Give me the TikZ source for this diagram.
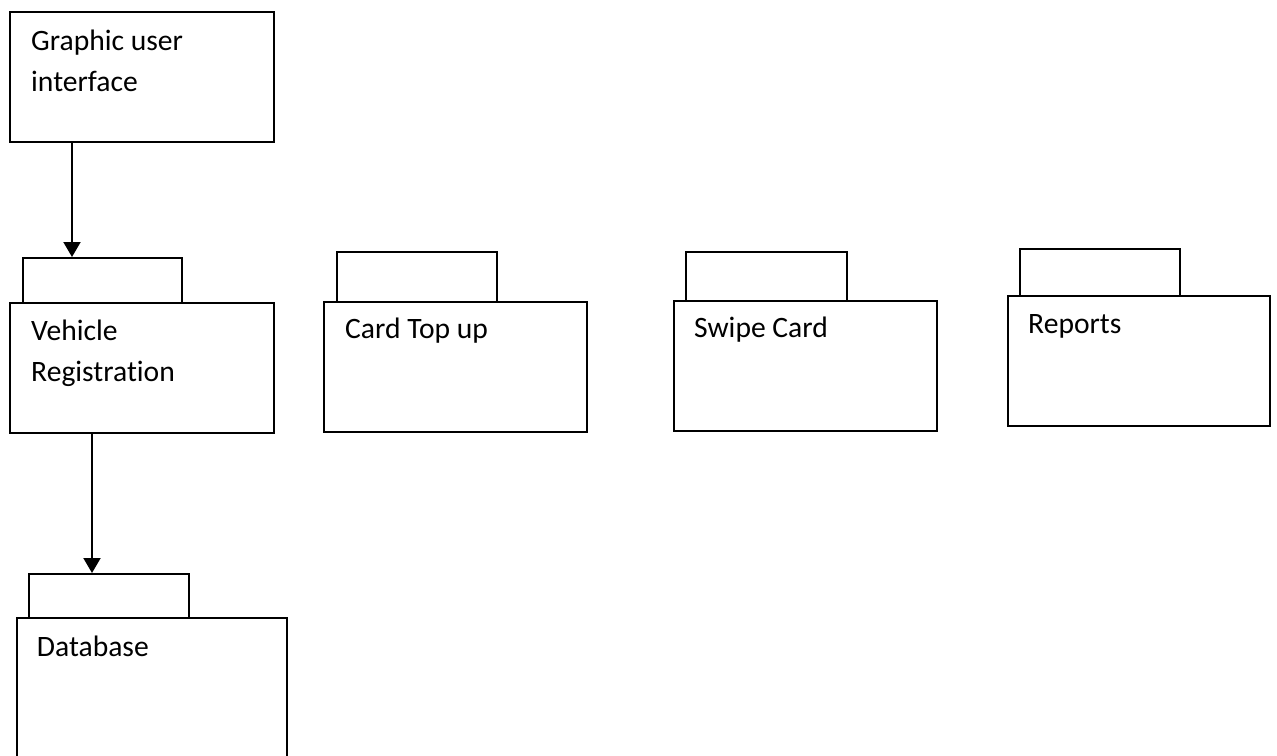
\documentclass[tikz,border=0pt]{standalone}
\usepackage{fontspec}
\setmainfont{Carlito}[Ligatures=NoCommon]
\usetikzlibrary{arrows.meta}

\begin{document}
\begin{tikzpicture}[x=1pt,y=-1pt,
    box/.style={draw, line width=2pt, anchor=north west, inner sep=0pt},
    lbl/.style={anchor=base west, align=left, inner sep=0pt,
      font=\fontsize{29.6}{41}\selectfont},
    arr/.style={line width=2pt, -{Triangle[length=15pt,width=17pt]}}]
  \useasboundingbox (0,0) rectangle (1277,755);
  \clip (0,0) rectangle (1277,755);
  % interface box on top (two-line labels sit on their last baseline)
  \node[box, minimum width=264pt, minimum height=130pt] (gui) at (9,10.7) {};
  \node[lbl] (guilbl) at (31,91) {Graphic user\\interface};
  % packages: tab first, then the body over it
  \node[box, minimum width=159pt, minimum height=45pt] (vrtab) at (22,257) {};
  \node[box, minimum width=264pt, minimum height=130pt] (vr) at (9,302) {};
  \node[lbl] (vrlbl) at (31,381.7) {Vehicle\\Registration};
  \node[box, minimum width=160pt, minimum height=50pt] (cttab) at (335.5,251) {};
  \node[box, minimum width=263pt, minimum height=130pt] (ct) at (323,300.7) {};
  \node[lbl] (ctlbl) at (345,338) {Card Top up};
  \node[box, minimum width=161pt, minimum height=49pt] (sctab) at (685,250.7) {};
  \node[box, minimum width=263pt, minimum height=130.5pt] (sc) at (673,299.5) {};
  \node[lbl] (sclbl) at (694,337) {Swipe Card};
  \node[box, minimum width=160pt, minimum height=47pt] (rptab) at (1019,248.3) {};
  \node[box, minimum width=262pt, minimum height=130pt] (rp) at (1007,295) {};
  \node[lbl] (rplbl) at (1028,333) {Reports};
  % database, cut off at the lower edge
  \node[box, minimum width=160pt, minimum height=44pt] (dbtab) at (28,573) {};
  \node[box, minimum width=270pt, minimum height=160pt] (db) at (16,617) {};
  \node[lbl] (dblbl) at (36.7,656.7) {Database};
  % dependencies
  \coordinate (g1) at (72,0);
  \coordinate (d1) at (92,0);
  \draw[arr] (gui.south -| g1) -- (vrtab.north -| g1);
  \draw[arr] (vr.south -| d1) -- (dbtab.north -| d1);
\end{tikzpicture}
\end{document}
